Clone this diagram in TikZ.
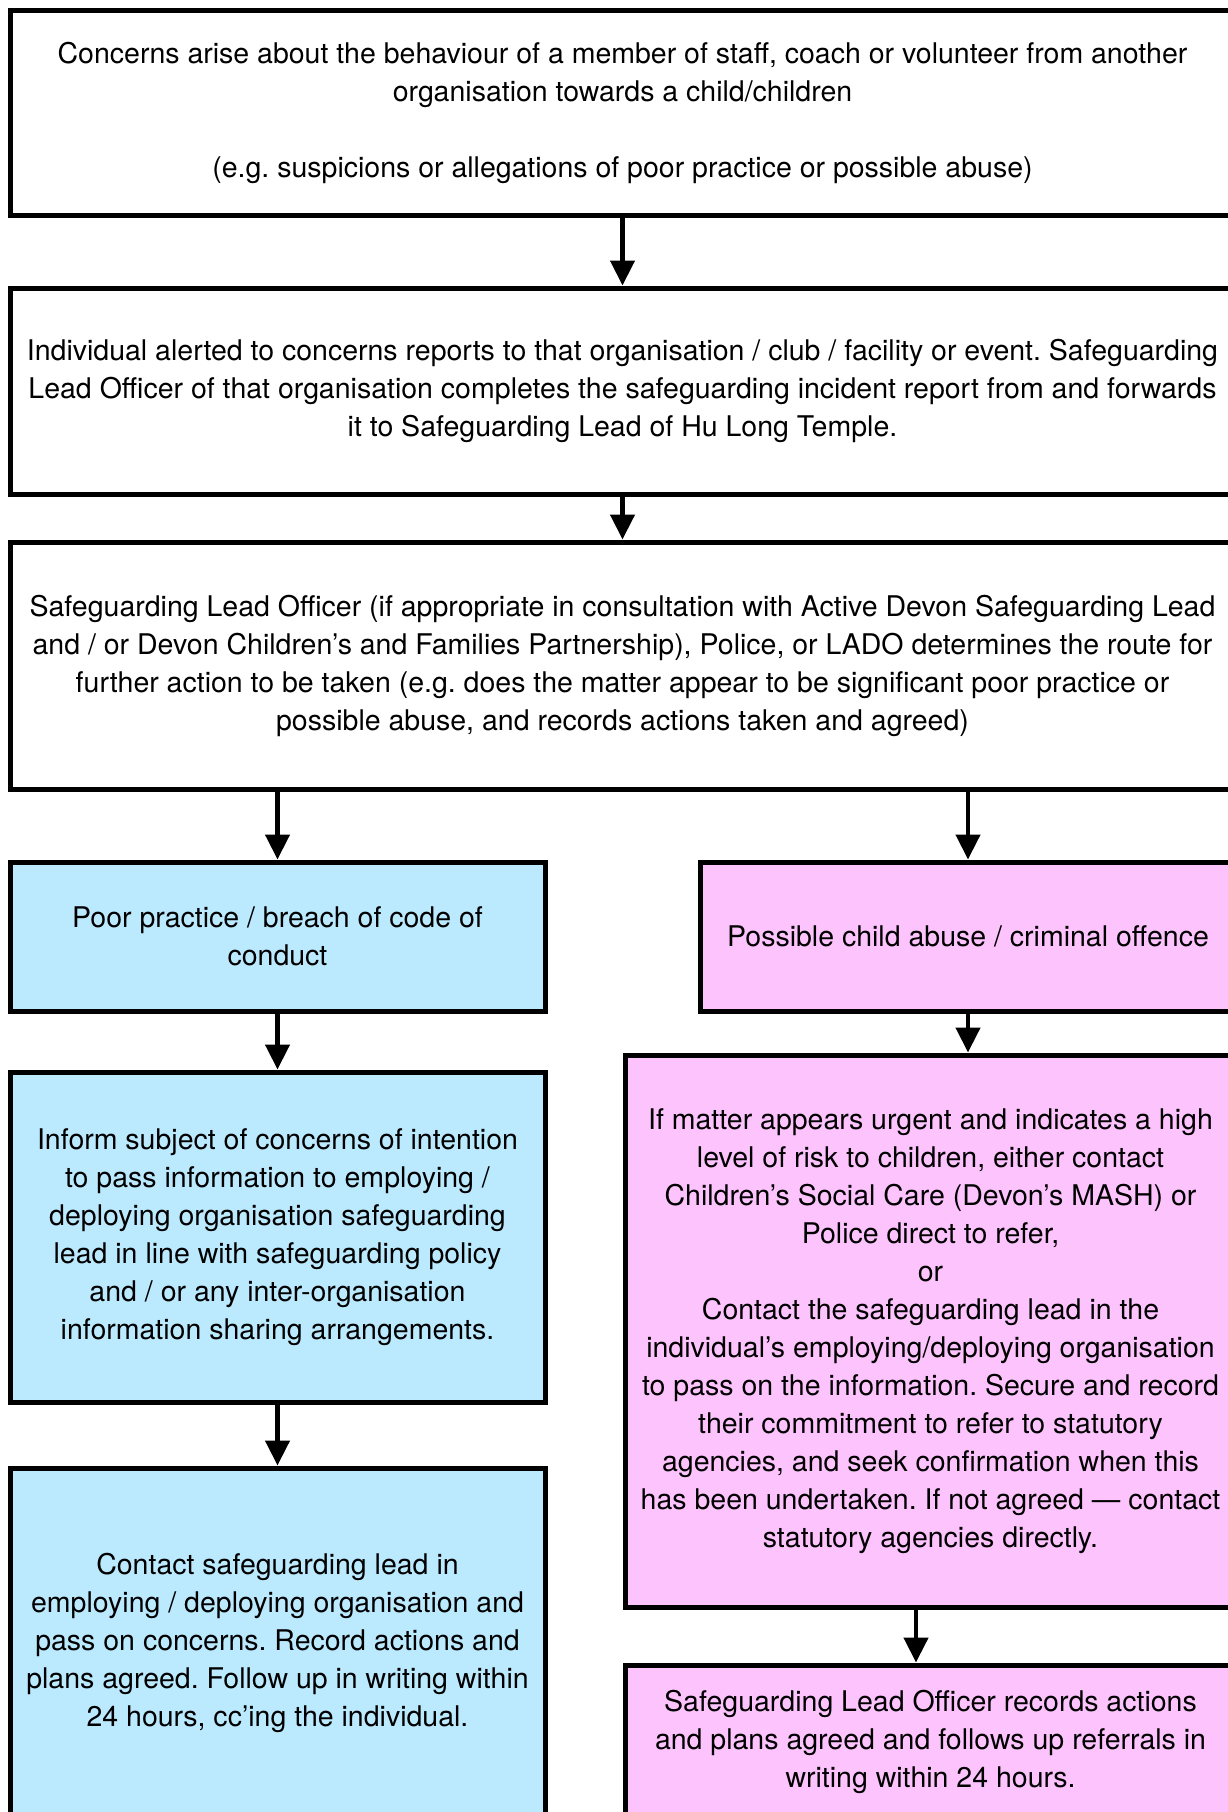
\documentclass[tikz,border=0pt]{standalone}
\usepackage{fontspec}
\setmainfont{TeX Gyre Heros}
\usepackage{xcolor}
\usepackage{tikz}
\usetikzlibrary{arrows.meta}
\definecolor{poorblue}{RGB}{187,233,254}
\definecolor{abusepink}{RGB}{253,195,253}
\frenchspacing
\begin{document}
\begin{tikzpicture}[x=1pt,y=-1pt,
		flowbox/.style={draw=black,line width=5pt,rectangle,align=center,inner sep=0pt,font=\fontsize{28.5}{38}\selectfont},
		flowarrow/.style={line width=4.5pt,-{Triangle[width=24pt,length=25pt]}}]
		\useasboundingbox (0,0) rectangle (1228,1812);
		\clip (0,0) rectangle (1228,1812);
		\node[flowbox,minimum width=1225pt,minimum height=205.5pt] (concern) at (622.5,112.75) {Concerns arise about the behaviour of a member of staff, coach or volunteer from another\\organisation towards a child/children\\[38pt](e.g. suspicions or allegations of poor practice or possible abuse)};
		\node[flowbox,minimum width=1225pt,minimum height=206.5pt] (alerted) at (622.5,391.25) {Individual alerted to concerns reports to that organisation / club / facility or event. Safeguarding\\Lead Officer of that organisation completes the safeguarding incident report from and forwards\\it to Safeguarding Lead of Hu Long Temple.};
		\node[flowbox,minimum width=1225pt,minimum height=247pt] (route) at (622.5,665.5) {Safeguarding Lead Officer (if appropriate in consultation with Active Devon Safeguarding Lead\\and / or Devon Children’s and Families Partnership), Police, or LADO determines the route for\\further action to be taken (e.g. does the matter appear to be significant poor practice or\\possible abuse, and records actions taken and agreed)};
		% poor practice branch
		\node[flowbox,fill=poorblue,minimum width=535pt,minimum height=149pt] (poor) at (277.5,936.5) {Poor practice / breach of code of\\conduct};
		\node[flowbox,fill=poorblue,minimum width=535pt,minimum height=330pt] (inform) at (277.5,1237) {Inform subject of concerns of intention\\to pass information to employing /\\deploying organisation safeguarding\\lead in line with safeguarding policy\\and / or any inter-organisation\\information sharing arrangements.};
		\node[flowbox,fill=poorblue,minimum width=535pt,minimum height=350pt] (contact) at (277.5,1643) {Contact safeguarding lead in\\employing / deploying organisation and\\pass on concerns. Record actions and\\plans agreed. Follow up in writing within\\24 hours, cc’ing the individual.};
		% abuse branch
		\node[flowbox,fill=abusepink,minimum width=536pt,minimum height=149pt] (abuse) at (968,936.5) {Possible child abuse / criminal offence};
		\node[flowbox,fill=abusepink,minimum width=611pt,minimum height=552pt] (urgent) at (930.5,1331) {If matter appears urgent and indicates a high\\level of risk to children, either contact\\Children’s Social Care (Devon’s MASH) or\\Police direct to refer,\\or\\Contact the safeguarding lead in the\\individual’s employing/deploying organisation\\to pass on the information. Secure and record\\their commitment to refer to statutory\\agencies, and seek confirmation when this\\has been undertaken. If not agreed — contact\\statutory agencies directly.};
		\node[flowbox,fill=abusepink,minimum width=611pt,minimum height=153pt] (records) at (930.5,1741.5) {Safeguarding Lead Officer records actions\\and plans agreed and follows up referrals in\\writing within 24 hours.};
		\coordinate (recin) at (916,0);
		% connectors
		\draw[flowarrow] (concern.south) to (alerted.north);
		\draw[flowarrow] (alerted.south) to (route.north);
		\draw[flowarrow] (route.south -| poor.north) to (poor.north);
		\draw[flowarrow] (route.south -| abuse.north) to (abuse.north);
		\draw[flowarrow] (poor.south) to (inform.north);
		\draw[flowarrow] (inform.south) to (contact.north);
		\draw[flowarrow] (abuse.south) to (abuse.south |- urgent.north);
		\draw[flowarrow] (urgent.south -| recin) to (records.north -| recin);
	\end{tikzpicture}
\end{document}
